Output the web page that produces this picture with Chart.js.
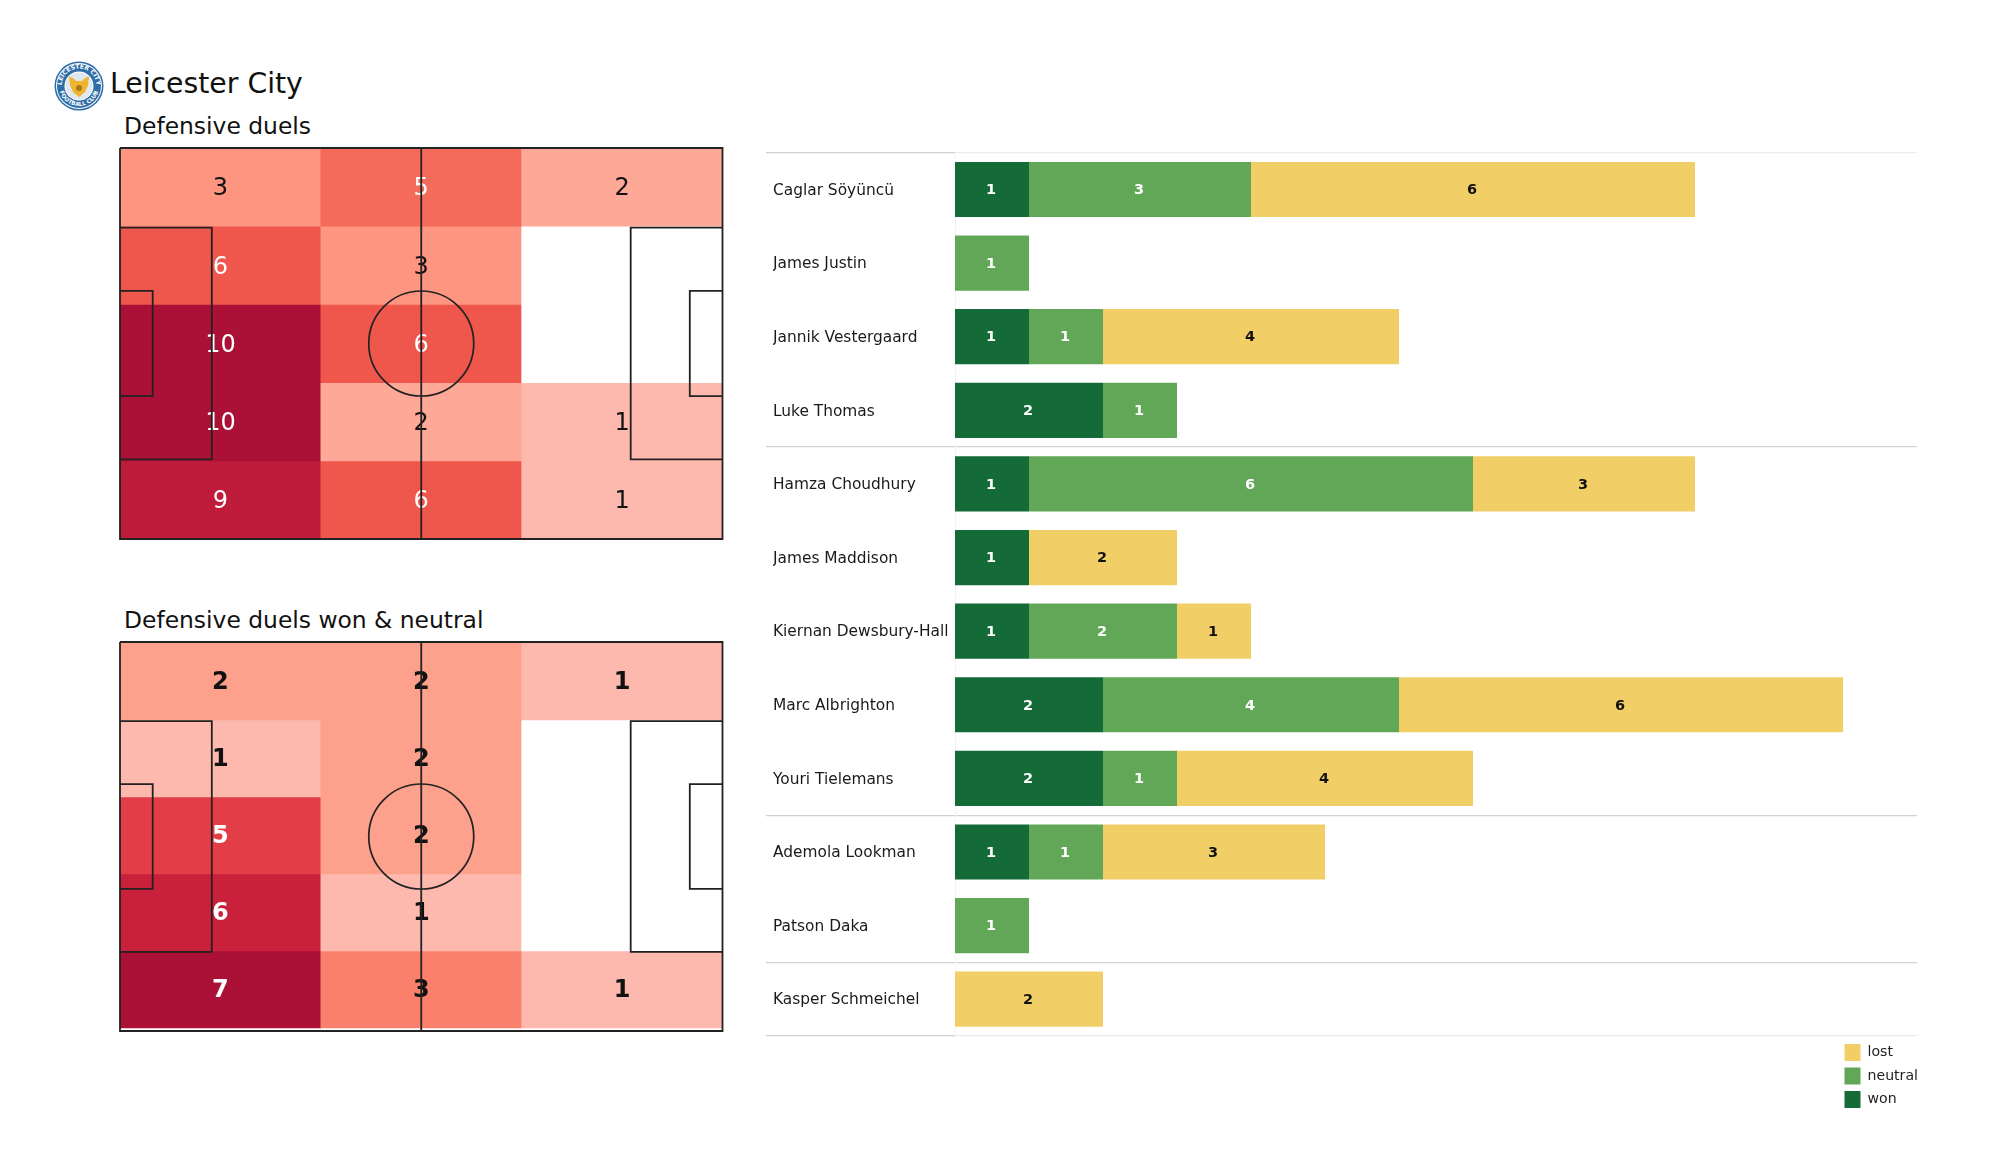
<!DOCTYPE html>
<html><head><meta charset="utf-8"><title>Leicester City</title>
<script src="https://cdn.jsdelivr.net/npm/chart.js@4"></script>
<style>
html,body{margin:0;padding:0;background:#fff;width:2000px;height:1175px;overflow:hidden;font-family:"DejaVu Sans",sans-serif;color:#111}
canvas{position:absolute;display:block}
.t{position:absolute;white-space:nowrap;line-height:1}
svg{position:absolute}
</style></head><body>
<svg style="left:54px;top:61px" width="50" height="50" viewBox="0 0 50 50">
<defs><path id="ra" d="M7.5 25a17.5 17.5 0 0 1 35 0"/><path id="rb" d="M5 25a20 20 0 0 0 40 0"/></defs>
<circle cx="25" cy="25" r="24.5" fill="#2f6da8"/><circle cx="25" cy="25" r="23" fill="#fff"/><circle cx="25" cy="25" r="22" fill="#2f6da8"/>
<circle cx="25" cy="25" r="14.5" fill="#fff"/><circle cx="25" cy="25" r="13.5" fill="#dfe8ef"/>
<text font-size="6" font-weight="bold" fill="#fff" font-family="DejaVu Sans"><textPath href="#ra" startOffset="50%" text-anchor="middle">LEICESTER CITY</textPath></text>
<text font-size="5.6" font-weight="bold" fill="#fff" font-family="DejaVu Sans"><textPath href="#rb" startOffset="50%" text-anchor="middle">FOOTBALL CLUB</textPath></text>
<path d="M15 15l5 3 2 2h6l2-2 5-3-1 9-3 7-6 5-6-5-3-7z" fill="#efb32e"/><circle cx="25" cy="27" r="3" fill="#a9761c"/>
</svg>
<div class="t" id="team" style="left:110px;top:70px;font-size:28.3px">Leicester City</div>
<div class="t" id="t1" style="left:124px;top:114.5px;font-size:23.4px">Defensive duels</div>
<div class="t" id="t2" style="left:124px;top:609px;font-size:23.4px">Defensive duels won &amp; neutral</div>
<canvas id="h1" style="left:112px;top:140px" width="622" height="408"></canvas>
<canvas id="h2" style="left:112px;top:634px" width="622" height="406"></canvas>
<canvas id="bars" style="left:766px;top:148px" width="1160" height="972"></canvas>
<script>
// Heat map counts, top row to bottom row; columns left to right
const heatColumns = ['left third', 'middle third', 'right third'];
const duelCounts = [[3,5,2],[6,3,0],[10,6,0],[10,2,1],[9,6,1]];
const wonNeutralCounts = [[2,2,1],[1,2,0],[5,2,0],[6,1,0],[7,3,1]];
const duelShades = {0:'#ffffff',1:'#feb9ae',2:'#fea898',3:'#fd9580',5:'#f56b5b',6:'#ef564c',9:'#bf1b3a',10:'#ab1036'};
const wonNeutralShades = {0:'#ffffff',1:'#feb9ae',2:'#fda08c',3:'#fb806b',5:'#e33d47',6:'#c9213c',7:'#ab1036'};
// Bar chart
const players = ['Caglar Söyüncü','James Justin','Jannik Vestergaard','Luke Thomas','Hamza Choudhury','James Maddison','Kiernan Dewsbury-Hall','Marc Albrighton','Youri Tielemans','Ademola Lookman','Patson Daka','Kasper Schmeichel'];
const won     = [1,0,1,2,1,1,1,2,2,1,0,0];
const neutral = [3,1,1,1,6,0,2,4,1,1,1,0];
const lost    = [6,0,4,0,3,2,1,6,4,3,0,2];
const positionGroupStarts = [0,4,9,11,12];
// Pitch markings, metres on a 105 x 68 pitch
const pitchLines = [
 [[0,0],[105,0],[105,68],[0,68],[0,0]],
 [[52.5,0],[52.5,68]],
 [[0,13.84],[16,13.84],[16,54.16],[0,54.16]],
 [[0,24.84],[5.7,24.84],[5.7,43.16],[0,43.16]],
 [[105,13.84],[89,13.84],[89,54.16],[105,54.16]],
 [[105,24.84],[99.3,24.84],[99.3,43.16],[105,43.16]]
];
const centreSpot = [52.5,34];
const centreCircleRadius = 9.15;
const FONT = '"DejaVu Sans", sans-serif';

const cellLabels = {
  id:'cellLabels',
  afterDatasetDraw(chart,args){
    if(args.index!==0) return;
    const o=chart.options.plugins.cellLabels, ctx=chart.ctx;
    ctx.save();
    ctx.font=o.font; ctx.textAlign='center'; ctx.textBaseline='middle';
    o.counts.forEach((row,r)=>row.forEach((v,c)=>{
      if(!v) return;
      const p=chart.getDatasetMeta(r).data[c].getCenterPoint();
      ctx.fillStyle=v>=5?'#ffffff':'#111111';
      ctx.fillText(String(v),p.x,p.y+o.dy);
    }));
    ctx.restore();
  }
};

function heat(id,counts,shades,font,yMin,yMax,dy){
  const cells=counts.map((row,r)=>({
    type:'bar', data:row.map(()=>[r,r+1]), backgroundColor:row.map(v=>shades[v]), grouped:false,
    borderWidth:0, barPercentage:1, categoryPercentage:1, xAxisID:'x', yAxisID:'y', order:2
  }));
  const lines=pitchLines.map(l=>({
    type:'scatter', showLine:true, data:l.map(p=>({x:p[0],y:p[1]})), borderColor:'#222222', borderWidth:1.8,
    pointRadius:0, xAxisID:'xp', yAxisID:'yp', order:1, clip:false, tension:0
  }));
  const circle={type:'scatter', data:[{x:centreSpot[0],y:centreSpot[1]}], xAxisID:'xp', yAxisID:'yp', order:1, clip:false,
    pointStyle:'circle', backgroundColor:'rgba(0,0,0,0)', borderColor:'#222222', pointBorderWidth:1.7,
    pointRadius:c=>{const s=c.chart.scales.xp;return s.getPixelForValue(centreCircleRadius)-s.getPixelForValue(0);}};
  return new Chart(document.getElementById(id),{
    type:'bar',
    data:{labels:heatColumns,datasets:[...cells,...lines,circle]},
    options:{responsive:false,animation:false,devicePixelRatio:1,
      layout:{padding:{left:8,right:11.5,top:8,bottom:9}},
      plugins:{legend:{display:false},tooltip:{enabled:false},cellLabels:{counts,font,dy}},
      scales:{
        x:{type:'category',display:false,offset:true},
        y:{type:'linear',display:false,min:yMin,max:yMax,reverse:true,offset:false},
        xp:{type:'linear',display:false,min:0,max:105,offset:false},
        yp:{type:'linear',display:false,min:0,max:68,reverse:true,offset:false}
      }},
    plugins:[cellLabels]
  });
}
heat('h1',duelCounts,duelShades,'24px '+FONT,0,5,2);
heat('h2',wonNeutralCounts,wonNeutralShades,'bold 24px '+FONT,-0.013,5.039,1);

const barLabels={
  id:'barLabels',
  afterDatasetsDraw(chart){
    const ctx=chart.ctx;
    ctx.save();ctx.font='bold 14.5px '+FONT;ctx.textAlign='center';ctx.textBaseline='middle';
    chart.data.datasets.forEach((d,i)=>{
      chart.getDatasetMeta(i).data.forEach((el,j)=>{
        if(!d.data[j]) return;
        const p=el.getCenterPoint();
        ctx.fillStyle=d.label==='lost'?'#111111':'#ffffff';
        ctx.fillText(String(d.data[j]),p.x-1,p.y+1);
      });
    });
    ctx.restore();
  }
};
const placeLegend={
  id:'placeLegend',
  beforeDraw(chart){
    const l=chart.legend,pad=chart.options.plugins.legend.labels.padding;
    l.left=1844.5-766-pad;l.right=l.left+l.width;
    l.top=1044-148-pad;l.bottom=l.top+l.height+20;
  }
};
const seriesStyle=(label,data,color)=>({label,data,backgroundColor:color,borderWidth:0,barPercentage:0.75,categoryPercentage:1,stack:'a'});
new Chart(document.getElementById('bars'),{
  type:'bar',
  data:{labels:players,datasets:[seriesStyle('won',won,'#156b38'),seriesStyle('neutral',neutral,'#62a758'),seriesStyle('lost',lost,'#f2cf66')]},
  options:{responsive:false,animation:false,devicePixelRatio:1,indexAxis:'y',
    layout:{padding:{left:7,right:9,top:4.7,bottom:84}},
    plugins:{tooltip:{enabled:false},
      legend:{position:'chartArea',align:'start',reverse:true,
        labels:{boxWidth:16,boxHeight:17,padding:6.5,color:'#222222',font:{family:FONT,size:14.1}}}},
    scales:{
      x:{stacked:true,display:false,min:0,max:13},
      y:{stacked:true,type:'category',
        afterFit(s){s.width=182;s.paddingTop=0;s.paddingBottom=0;},
        border:{display:true,color:'#f5f5f5',width:1},
        grid:{offset:true,drawOnChartArea:true,tickLength:189,lineWidth:1.3,
          color:c=>{const i=c.index===undefined?players.length:c.index;return positionGroupStarts.includes(i)?(i===0||i===players.length?'#ececec':'#d4d4d4'):'rgba(0,0,0,0)';},
          tickColor:c=>{const i=c.index===undefined?players.length:c.index;return positionGroupStarts.includes(i)?'#d0d0d0':'rgba(0,0,0,0)';}},
        ticks:{autoSkip:false,crossAlign:'far',color:'#1a1a1a',padding:0,labelOffset:1.3,font:{family:FONT,size:15.4}}
      }
    }},
  plugins:[barLabels,placeLegend]
});
</script>
</body></html>
